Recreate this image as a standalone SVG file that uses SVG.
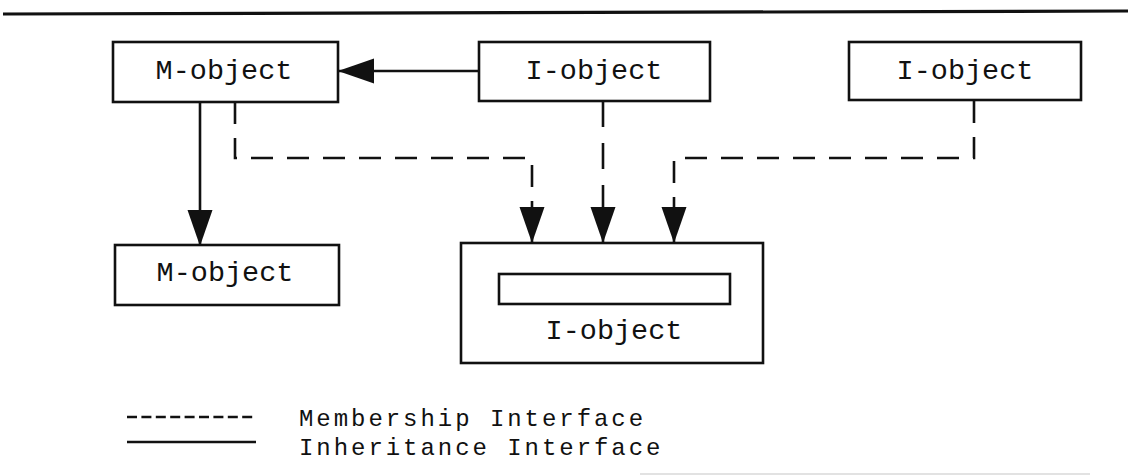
<svg xmlns="http://www.w3.org/2000/svg" width="1128" height="475" viewBox="0 0 1128 475">
  <style>
    .box { fill: #fff; stroke: #111; stroke-width: 2.6; }
    .label { font-family: "Liberation Mono", "Courier New", monospace; font-size: 28.5px; fill: #111; text-anchor: middle; }
    .legend { font-family: "Liberation Mono", "Courier New", monospace; font-size: 24px; letter-spacing: 2.95px; fill: #111; }
    .solid { fill: none; stroke: #111; stroke-width: 2.6; }
    .dash { fill: none; stroke: #111; stroke-width: 2.6; stroke-dasharray: 22 14; }
  </style>
  <defs>
    <marker id="head" markerUnits="userSpaceOnUse" markerWidth="37" markerHeight="26" refX="36" refY="12.5" orient="auto">
      <path d="M0,0 L36,12.5 L0,25 Z" fill="#111"/>
    </marker>
  </defs>

  <rect width="1128" height="475" fill="#fff"/>

  <!-- page rule at the top -->
  <line x1="3" y1="14" x2="1128" y2="11" stroke="#111" stroke-width="3.2"/>
  <!-- faint rule at the foot -->
  <line x1="640" y1="474" x2="1090" y2="474" stroke="#e2e2e2" stroke-width="2"/>

  <g id="m-object-top">
    <rect class="box" x="113" y="42" width="225" height="60"/>
    <text class="label" x="224" y="79">M-object</text>
  </g>

  <g id="i-object-middle">
    <rect class="box" x="479" y="42" width="231" height="59"/>
    <text class="label" x="594" y="79">I-object</text>
  </g>

  <g id="i-object-right">
    <rect class="box" x="849" y="42" width="232" height="58"/>
    <text class="label" x="965" y="79">I-object</text>
  </g>

  <g id="m-object-bottom">
    <rect class="box" x="115" y="245" width="224" height="60"/>
    <text class="label" x="225" y="281">M-object</text>
  </g>

  <g id="i-object-composite">
    <rect class="box" x="461" y="243" width="302" height="120"/>
    <rect class="box" x="499" y="274" width="231" height="30"/>
    <text class="label" x="614" y="339">I-object</text>
  </g>

  <g id="connectors">
    <!-- inheritance links -->
    <path class="solid" d="M479,71 H338" marker-end="url(#head)"/>
    <path class="solid" d="M200,102 V246" marker-end="url(#head)"/>
    <!-- membership links -->
    <path class="dash" d="M235,102 V158 H532 V243" marker-end="url(#head)"/>
    <path class="dash" style="stroke-dasharray: 26 16" d="M603,101 V243" marker-end="url(#head)"/>
    <path class="dash" d="M974,101 V158 H674 V243" marker-end="url(#head)"/>
  </g>

  <g id="legend">
    <line class="solid" x1="127" y1="417" x2="256" y2="417" style="stroke-dasharray: 10 4.4"/>
    <line class="solid" x1="127" y1="442" x2="256" y2="442"/>
    <text class="legend" x="299" y="426">Membership Interface</text>
    <text class="legend" x="299" y="455">Inheritance Interface</text>
  </g>
</svg>
